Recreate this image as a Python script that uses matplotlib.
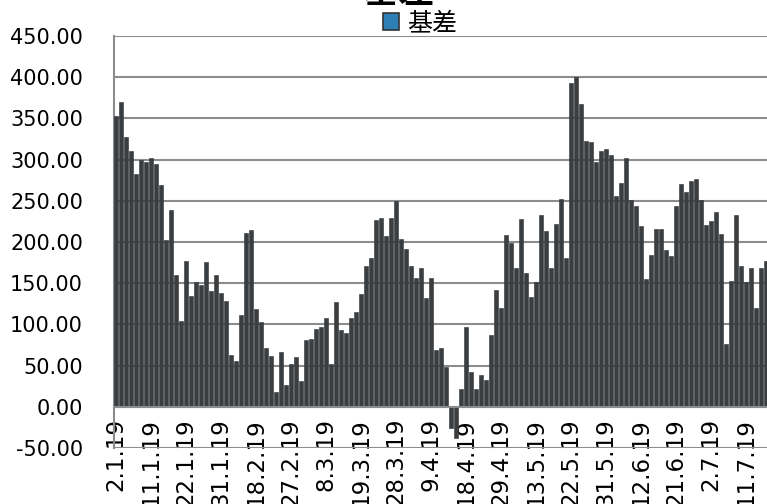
import matplotlib
matplotlib.use("Agg")
import matplotlib.pyplot as plt
from matplotlib.patches import Patch

plt.rcParams['font.family'] = ['DejaVu Sans', 'Noto Sans CJK SC']

# trading days (d.m.yy)
dates = [
    "2.1.19", "3.1.19", "4.1.19", "7.1.19", "8.1.19", "9.1.19", "10.1.19",
    "11.1.19", "14.1.19", "15.1.19", "16.1.19", "17.1.19", "18.1.19", "21.1.19",
    "22.1.19", "23.1.19", "24.1.19", "25.1.19", "28.1.19", "29.1.19", "30.1.19",
    "31.1.19", "1.2.19", "11.2.19", "12.2.19", "13.2.19", "14.2.19", "15.2.19",
    "18.2.19", "19.2.19", "20.2.19", "21.2.19", "22.2.19", "25.2.19", "26.2.19",
    "27.2.19", "28.2.19", "1.3.19", "4.3.19", "5.3.19", "6.3.19", "7.3.19",
    "8.3.19", "11.3.19", "12.3.19", "13.3.19", "14.3.19", "15.3.19", "18.3.19",
    "19.3.19", "20.3.19", "21.3.19", "22.3.19", "25.3.19", "26.3.19", "27.3.19",
    "28.3.19", "29.3.19", "1.4.19", "2.4.19", "3.4.19", "4.4.19", "8.4.19",
    "9.4.19", "10.4.19", "11.4.19", "12.4.19", "15.4.19", "16.4.19", "17.4.19",
    "18.4.19", "19.4.19", "22.4.19", "23.4.19", "24.4.19", "25.4.19", "26.4.19",
    "29.4.19", "30.4.19", "6.5.19", "7.5.19", "8.5.19", "9.5.19", "10.5.19",
    "13.5.19", "14.5.19", "15.5.19", "16.5.19", "17.5.19", "20.5.19", "21.5.19",
    "22.5.19", "23.5.19", "24.5.19", "27.5.19", "28.5.19", "29.5.19", "30.5.19",
    "31.5.19", "3.6.19", "4.6.19", "5.6.19", "6.6.19", "10.6.19", "11.6.19",
    "12.6.19", "13.6.19", "14.6.19", "17.6.19", "18.6.19", "19.6.19", "20.6.19",
    "21.6.19", "24.6.19", "25.6.19", "26.6.19", "27.6.19", "28.6.19", "1.7.19",
    "2.7.19", "3.7.19", "4.7.19", "5.7.19", "8.7.19", "9.7.19", "10.7.19",
    "11.7.19", "12.7.19", "15.7.19", "16.7.19", "17.7.19",
]

basis = [
    353, 370, 328, 311, 282, 299, 297, 302, 295, 269,
    203, 239, 160, 104, 177, 135, 151, 148, 176, 141,
    160, 138, 129, 63, 56, 111, 211, 214, 119, 103,
    71, 62, 18, 67, 27, 52, 60, 31, 81, 82,
    94, 97, 108, 52, 127, 93, 89, 108, 115, 137,
    171, 181, 227, 229, 207, 229, 250, 204, 192, 171,
    156, 168, 132, 156, 69, 71, 48, -26, -38, 22,
    97, 42, 21, 38, 32, 87, 142, 120, 209, 199,
    168, 228, 162, 133, 151, 233, 213, 168, 222, 252,
    181, 393, 400, 368, 322, 321, 297, 310, 313, 306,
    256, 272, 302, 251, 244, 220, 155, 184, 216, 216,
    190, 183, 244, 270, 261, 274, 276, 251, 221, 226,
    236, 210, 76, 153, 233, 171, 151, 169, 120, 168,
    177,
]

yticks = [-50, 0, 50, 100, 150, 200, 250, 300, 350, 400, 450]
label_step = 7

W, H = 767, 504
fig = plt.figure(figsize=(W / 100, H / 100), dpi=100)
ax = fig.add_axes([113.5 / W, 1 - 448 / H, 1 - 113.5 / W, (448 - 36) / H])

for s in ['top', 'right']:
    ax.spines[s].set_visible(False)
ax.spines['left'].set_color('#8c8c8c')
ax.spines['left'].set_linewidth(1.5)
ax.spines['bottom'].set_position(('data', 0))
ax.spines['bottom'].set_color('#8c8c8c')
ax.spines['bottom'].set_linewidth(1.5)
ax.spines['bottom'].set_zorder(4)

x = list(range(len(basis)))
ax.bar(x, basis, width=0.62, color='#3b3e41', edgecolor='#2f3336', linewidth=0.4, zorder=3)

ax.set_ylim(-50, 450)
ax.set_xlim(-0.5, 130.2)
ax.set_yticks(yticks)
ax.set_yticklabels([f"{v:.2f}" for v in yticks], fontsize=15)
tick_pos = x[::label_step]
ax.set_xticks(tick_pos)
ax.set_xticklabels(dates[::label_step], rotation=90, fontsize=16.5, va='top', ha='center')
ax.tick_params(axis='both', length=0)
ax.tick_params(axis='x', pad=8)
ax.tick_params(axis='y', pad=22)

ax.grid(axis='y', color='#8c8c8c', linewidth=1.5, zorder=1)
ax.grid(axis='x', visible=False)

# title (cut at the top edge as in the reference)
fig.text(398 / W, 1 - 11 / H, "基差", fontsize=26, fontweight='bold',
         ha='center', va='bottom', family=['Noto Sans CJK SC', 'DejaVu Sans'])

handle = Patch(facecolor='#2e7fb5', edgecolor='#333333', linewidth=1.2)
fig.legend([handle], ["基差"], loc='center', bbox_to_anchor=(420 / W, 1 - 23 / H),
           frameon=False, handlelength=0.65, handleheight=0.65,
           handletextpad=0.35, borderpad=0.1,
           prop={'family': ['Noto Sans CJK SC', 'DejaVu Sans'], 'size': 18})

fig.savefig("out.png", dpi=100)
